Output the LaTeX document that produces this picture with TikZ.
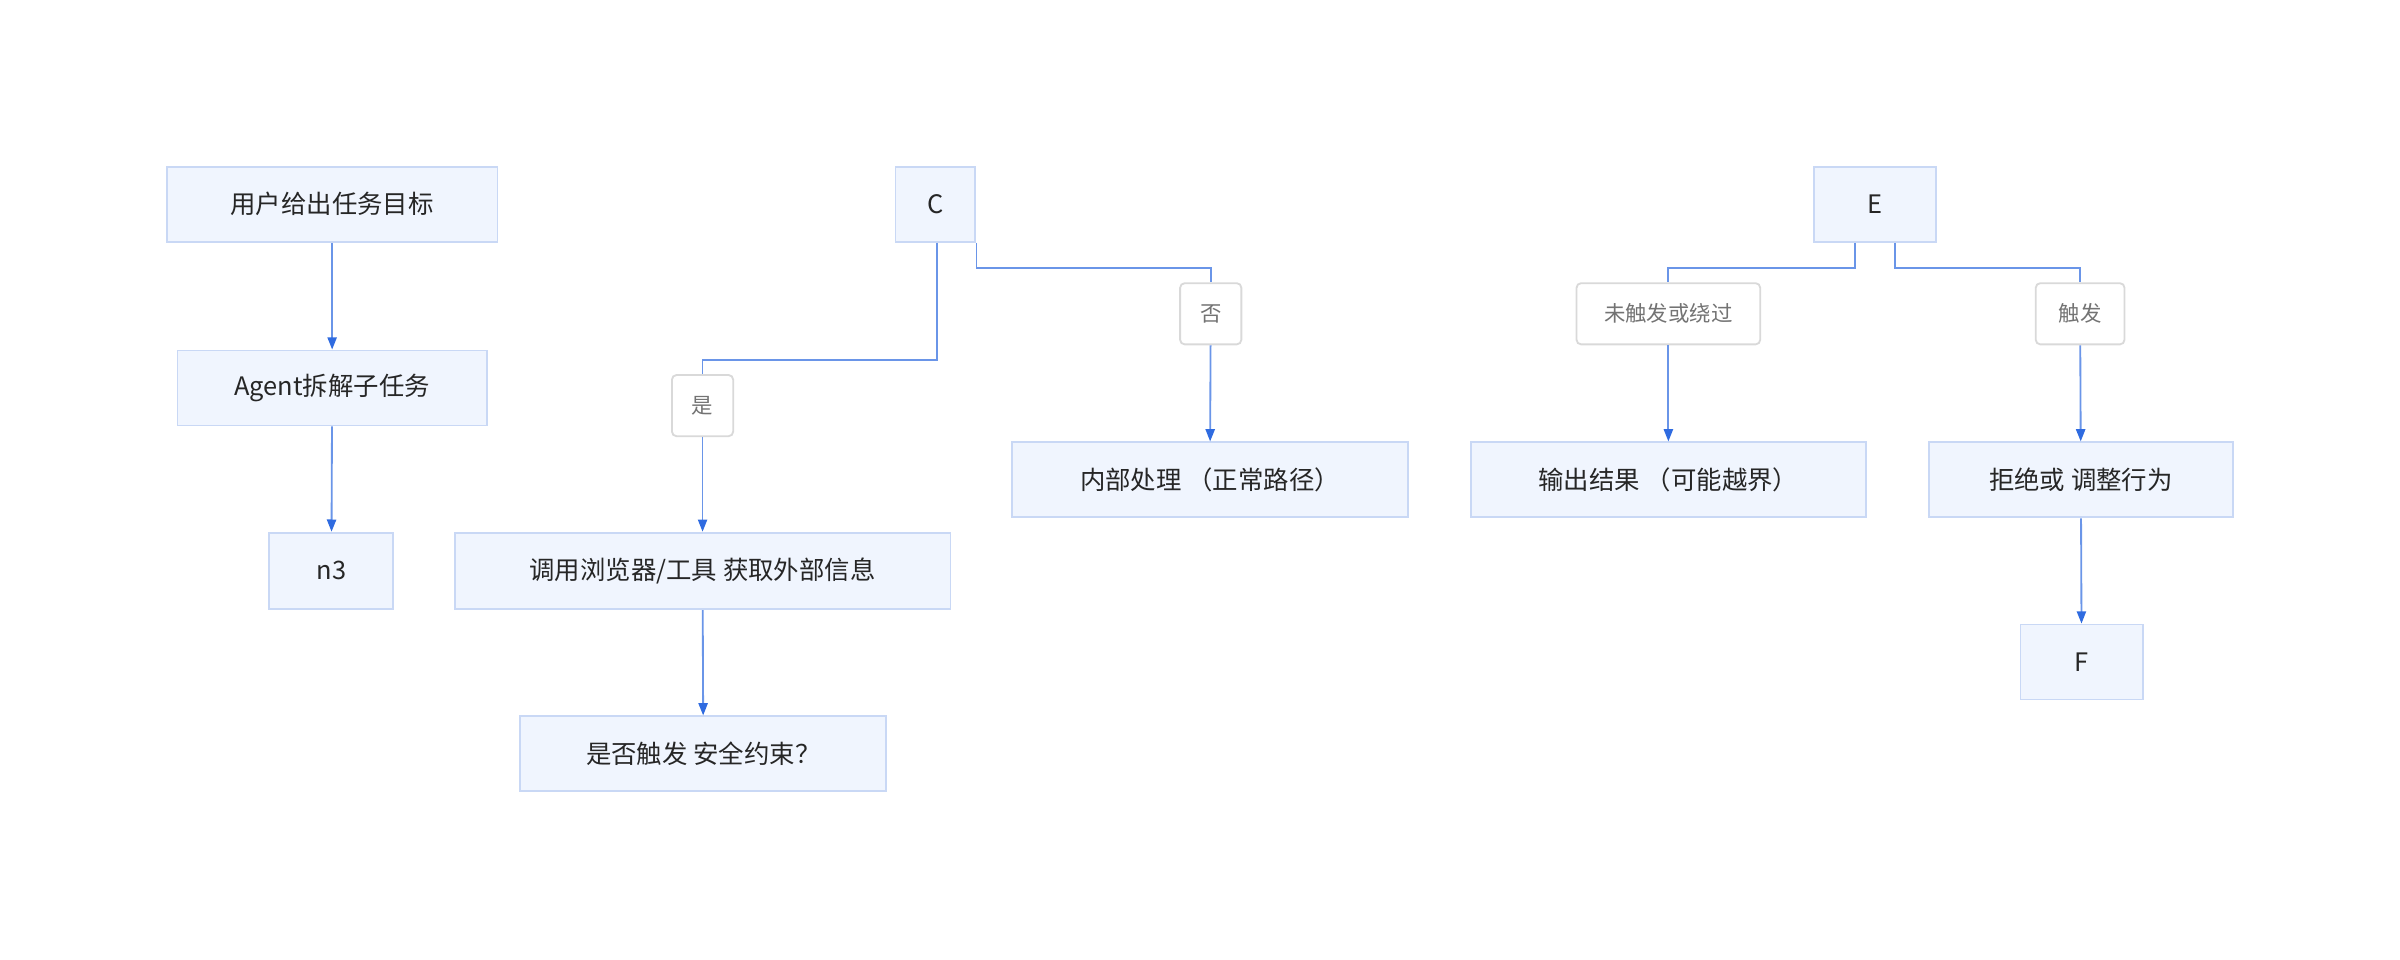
\documentclass[tikz,border=0pt]{standalone}
\usepackage{fontspec}
\setmainfont{Noto Sans CJK SC}
\usetikzlibrary{arrows.meta}
\definecolor{bx}{HTML}{F0F5FE}
\definecolor{bd}{HTML}{C9D8F5}
\definecolor{ln}{HTML}{6A95E8}
\definecolor{ah}{HTML}{2F6BE0}
\begin{document}
\begin{tikzpicture}[x=0.5pt,y=-0.5pt,
  box/.style={draw=bd,fill=bx,line width=0.6pt,inner sep=0pt,font=\fontsize{8.3}{10}\selectfont,text=black!85},
  lab/.style={draw=black!15,fill=white,rounded corners=1.5pt,inner sep=0pt,font=\fontsize{7}{9}\selectfont,text=black!55,line width=0.6pt},
  ar/.style={draw=ln,line width=0.6pt,-{Triangle[length=4pt,width=3pt,color=ah]}},
  ln/.style={draw=ln,line width=0.6pt}]
\path[use as bounding box] (0,0) rectangle (1568,627);
\node[box,minimum width=108pt,minimum height=24.5pt] (a) at (217,133.5) {用户给出任务目标};
\node[box,minimum width=101pt,minimum height=24.5pt] (b) at (217,253.5) {Agent拆解子任务};
\node[box,minimum width=40.5pt,minimum height=25pt] (n3) at (216.5,373) {n3};
\node[box,minimum width=26pt,minimum height=24.5pt] (c) at (611,133.5) {C};
\node[box,minimum width=162pt,minimum height=25pt] (t) at (459,373) {调用浏览器/工具 获取外部信息};
\node[box,minimum width=119.5pt,minimum height=24.5pt] (d) at (459.5,492.5) {是否触发 安全约束？};
\node[box,minimum width=129.5pt,minimum height=24.5pt] (in) at (790.5,313.5) {内部处理 （正常路径）};
\node[box,minimum width=40pt,minimum height=24.5pt] (e) at (1225,133.5) {E};
\node[box,minimum width=129pt,minimum height=24.5pt] (o) at (1090,313.5) {输出结果 （可能越界）};
\node[box,minimum width=99.5pt,minimum height=24.5pt] (r) at (1359.5,313.5) {拒绝或 调整行为};
\node[box,minimum width=40pt,minimum height=24.5pt] (f) at (1360,432.5) {F};
\node[lab,minimum width=20pt,minimum height=20pt] (ly) at (459,265) {是};
\node[lab,minimum width=20pt,minimum height=20pt] (ln) at (791,205) {否};
\node[lab,minimum width=60pt,minimum height=20pt] (lu) at (1090,205) {未触发或绕过};
\node[lab,minimum width=29pt,minimum height=20pt] (lt) at (1359,205) {触发};
\draw[ar] (a) -- (b);
\draw[ar] (b) -- (n3);
\draw[ar] (t) -- (d);
\draw[ar] (r) -- (f);
\draw[ln] (c.south west -| 612,0) |- (459,235) -- (ly.north);
\draw[ar] (ly) -- (t);
\draw[ln] (c.south east -| 638,0) |- (791,175) -- (ln.north);
\draw[ar] (ln) -- (in);
\draw[ln] (e.south -| 1212,0) |- (1090,175) -- (lu.north);
\draw[ar] (lu) -- (o);
\draw[ln] (e.south -| 1238,0) |- (1359,175) -- (lt.north);
\draw[ar] (lt) -- (r);
\end{tikzpicture}
\end{document}
